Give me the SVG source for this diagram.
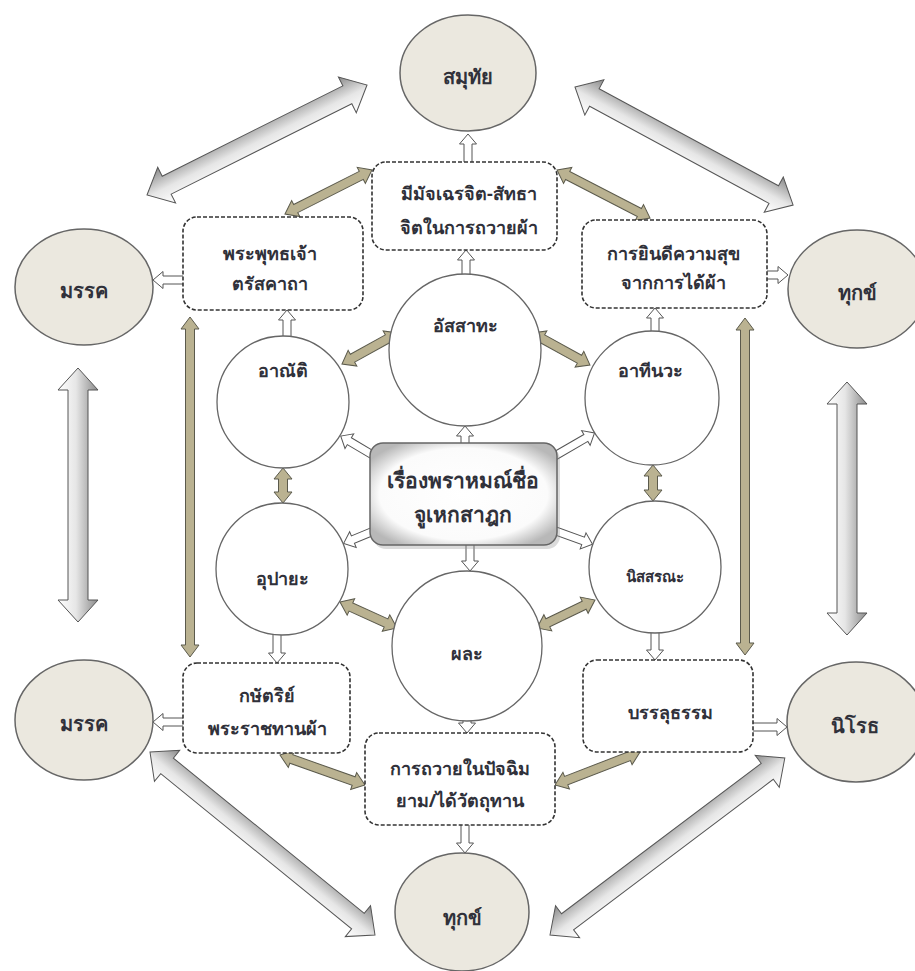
<svg xmlns="http://www.w3.org/2000/svg" width="915" height="971" viewBox="0 0 915 971">
<style>
text{font-family:"Noto Sans","DejaVu Sans",sans-serif;font-weight:bold;fill:#30313a;text-anchor:middle;dominant-baseline:central}
.outer{fill:#ebe8df;stroke:#666;stroke-width:1.5}
.inner{fill:#fff;stroke:#666;stroke-width:1.3}
.box{fill:#fff;stroke:#333;stroke-width:1.6;stroke-dasharray:4 2}
.big{fill:url(#gg);stroke:#555;stroke-width:1}
.kh{fill:#bab291;stroke:#5b5a4c;stroke-width:1}
.sm{fill:#fff;stroke:#555;stroke-width:1}
.t20{font-size:20px}
.t18{font-size:18px}
.t22{font-size:21px}
</style>
<defs>
<linearGradient id="gg" x1="0" y1="0" x2="0" y2="1">
<stop offset="0" stop-color="#8a8a8a"/>
<stop offset="0.55" stop-color="#e6e6e6"/>
<stop offset="1" stop-color="#ffffff"/>
</linearGradient>
<radialGradient id="cg" cx="0.5" cy="0.5" r="0.6">
<stop offset="0" stop-color="#ffffff"/>
<stop offset="0.75" stop-color="#fbfbfb"/>
<stop offset="1" stop-color="#b8b8b8"/>
</radialGradient>
</defs>
<g id="connectors">
<path class="big" transform="translate(147 195) rotate(-26.57)" d="M0,0 L22,-20 L22,-10 L224,-10 L224,-20 L246,0 L224,20 L224,10 L22,10 L22,20 Z"/>
<path class="big" transform="translate(575 87) rotate(28.42)" d="M0,0 L22,-20 L22,-10 L226,-10 L226,-20 L248,0 L226,20 L226,10 L22,10 L22,20 Z"/>
<path class="big" transform="translate(78 368) rotate(90)" d="M0,0 L22,-20 L22,-10 L232,-10 L232,-20 L254,0 L232,20 L232,10 L22,10 L22,20 Z"/>
<path class="big" transform="translate(847 382) rotate(90)" d="M0,0 L22,-20 L22,-10 L231,-10 L231,-20 L253,0 L231,20 L231,10 L22,10 L22,20 Z"/>
<path class="big" transform="translate(150 752) rotate(39.12)" d="M0,0 L22,-20 L22,-10 L268,-10 L268,-20 L290,0 L268,20 L268,10 L22,10 L22,20 Z"/>
<path class="big" transform="translate(550 935) rotate(-37)" d="M0,0 L22,-20 L22,-10 L272,-10 L272,-20 L294,0 L272,20 L272,10 L22,10 L22,20 Z"/>
<path class="kh" transform="translate(285 214) rotate(-26.83)" d="M0,0 L12,-9 L12,-4.5 L85.5,-4.5 L85.5,-9 L97.5,0 L85.5,9 L85.5,4.5 L12,4.5 L12,9 Z"/>
<path class="kh" transform="translate(557 170) rotate(27.3)" d="M0,0 L12,-9 L12,-4.5 L92.7,-4.5 L92.7,-9 L104.7,0 L92.7,9 L92.7,4.5 L12,4.5 L12,9 Z"/>
<path class="kh" transform="translate(190 317) rotate(90)" d="M0,0 L12,-9 L12,-4.5 L328,-4.5 L328,-9 L340,0 L328,9 L328,4.5 L12,4.5 L12,9 Z"/>
<path class="kh" transform="translate(745 318) rotate(90)" d="M0,0 L12,-9 L12,-4.5 L325,-4.5 L325,-9 L337,0 L325,9 L325,4.5 L12,4.5 L12,9 Z"/>
<path class="kh" transform="translate(342 364) rotate(-28.97)" d="M0,0 L12,-9 L12,-4.5 L52,-4.5 L52,-9 L64,0 L52,9 L52,4.5 L12,4.5 L12,9 Z"/>
<path class="kh" transform="translate(532 333) rotate(28.89)" d="M0,0 L12,-9 L12,-4.5 L54.2,-4.5 L54.2,-9 L66.2,0 L54.2,9 L54.2,4.5 L12,4.5 L12,9 Z"/>
<path class="kh" transform="translate(283 468) rotate(90)" d="M0,0 L11,-9 L11,-4.5 L24,-4.5 L24,-9 L35,0 L24,9 L24,4.5 L11,4.5 L11,9 Z"/>
<path class="kh" transform="translate(653 465) rotate(90)" d="M0,0 L11,-9 L11,-4.5 L25,-4.5 L25,-9 L36,0 L25,9 L25,4.5 L11,4.5 L11,9 Z"/>
<path class="kh" transform="translate(340 602) rotate(24.52)" d="M0,0 L12,-9 L12,-4.5 L50.6,-4.5 L50.6,-9 L62.6,0 L50.6,9 L50.6,4.5 L12,4.5 L12,9 Z"/>
<path class="kh" transform="translate(537 628) rotate(-25.77)" d="M0,0 L12,-9 L12,-4.5 L52.4,-4.5 L52.4,-9 L64.4,0 L52.4,9 L52.4,4.5 L12,4.5 L12,9 Z"/>
<path class="kh" transform="translate(280 755) rotate(19.44)" d="M0,0 L12,-9 L12,-4.5 L78.1,-4.5 L78.1,-9 L90.1,0 L78.1,9 L78.1,4.5 L12,4.5 L12,9 Z"/>
<path class="kh" transform="translate(555 785) rotate(-21.22)" d="M0,0 L12,-9 L12,-4.5 L79.2,-4.5 L79.2,-9 L91.2,0 L79.2,9 L79.2,4.5 L12,4.5 L12,9 Z"/>
<path class="sm" transform="translate(468 166) rotate(-90)" d="M0,-4 L22,-4 L22,-8.5 L32,0 L22,8.5 L22,4 L0,4 Z"/>
<path class="sm" transform="translate(466 280) rotate(-90)" d="M0,-4 L20,-4 L20,-8.5 L30,0 L20,8.5 L20,4 L0,4 Z"/>
<path class="sm" transform="translate(287 342) rotate(-90)" d="M0,-4 L22,-4 L22,-8.5 L32,0 L22,8.5 L22,4 L0,4 Z"/>
<path class="sm" transform="translate(655 337) rotate(-90)" d="M0,-4 L19,-4 L19,-8.5 L29,0 L19,8.5 L19,4 L0,4 Z"/>
<path class="sm" transform="translate(187 280) rotate(180)" d="M0,-4 L24,-4 L24,-8.5 L34,0 L24,8.5 L24,4 L0,4 Z"/>
<path class="sm" transform="translate(763 275) rotate(0)" d="M0,-4 L15,-4 L15,-8.5 L25,0 L15,8.5 L15,4 L0,4 Z"/>
<path class="sm" transform="translate(465 447) rotate(-90)" d="M0,-4 L11,-4 L11,-8.5 L21,0 L11,8.5 L11,4 L0,4 Z"/>
<path class="sm" transform="translate(376 457) rotate(-149.3)" d="M0,-4 L31,-4 L31,-8.5 L41,0 L31,8.5 L31,4 L0,4 Z"/>
<path class="sm" transform="translate(553 457) rotate(-30.07)" d="M0,-4 L38,-4 L38,-8.5 L48,0 L38,8.5 L38,4 L0,4 Z"/>
<path class="sm" transform="translate(376 530) rotate(157.5)" d="M0,-4 L25,-4 L25,-8.5 L35,0 L25,8.5 L25,4 L0,4 Z"/>
<path class="sm" transform="translate(553 530) rotate(19.85)" d="M0,-4 L32,-4 L32,-8.5 L42,0 L32,8.5 L32,4 L0,4 Z"/>
<path class="sm" transform="translate(470 541) rotate(90)" d="M0,-4 L20,-4 L20,-8.5 L30,0 L20,8.5 L20,4 L0,4 Z"/>
<path class="sm" transform="translate(277 629) rotate(90)" d="M0,-4 L24,-4 L24,-8.5 L34,0 L24,8.5 L24,4 L0,4 Z"/>
<path class="sm" transform="translate(655 627) rotate(90)" d="M0,-4 L23,-4 L23,-8.5 L33,0 L23,8.5 L23,4 L0,4 Z"/>
<path class="sm" transform="translate(187 722) rotate(180)" d="M0,-4 L24,-4 L24,-8.5 L34,0 L24,8.5 L24,4 L0,4 Z"/>
<path class="sm" transform="translate(749 727) rotate(0)" d="M0,-4 L28,-4 L28,-8.5 L38,0 L28,8.5 L28,4 L0,4 Z"/>
<path class="sm" transform="translate(467 712) rotate(90)" d="M0,-4 L11,-4 L11,-8.5 L21,0 L11,8.5 L11,4 L0,4 Z"/>
<path class="sm" transform="translate(465 821) rotate(90)" d="M0,-4 L22,-4 L22,-8.5 L32,0 L22,8.5 L22,4 L0,4 Z"/>
</g>
<g id="n-samuthai"><ellipse class="outer" cx="468" cy="73" rx="68" ry="58"/><text class="t20" x="468" y="76">สมุทัย</text></g>
<g id="n-mak1"><ellipse class="outer" cx="84" cy="287" rx="69" ry="58"/><text class="t20" x="84" y="290">มรรค</text></g>
<g id="n-thuk1"><ellipse class="outer" cx="857" cy="289" rx="69" ry="59"/><text class="t20" x="857" y="292">ทุกข์</text></g>
<g id="n-mak2"><ellipse class="outer" cx="84" cy="720" rx="69" ry="60"/><text class="t20" x="84" y="723">มรรค</text></g>
<g id="n-nirot"><ellipse class="outer" cx="856" cy="722" rx="69" ry="60"/><text class="t20" x="855" y="725">นิโรธ</text></g>
<g id="n-thuk2"><ellipse class="outer" cx="462" cy="912" rx="67" ry="59"/><text class="t20" x="462" y="917">ทุกข์</text></g>
<g id="n-matchera"><rect class="box" x="372" y="162" width="185" height="88" rx="14"/><text class="t18" x="469" y="193">มีมัจเฉรจิต-สัทธา</text><text class="t18" x="469" y="227">จิตในการถวายผ้า</text></g>
<g id="n-phraphut"><rect class="box" x="183" y="217" width="180" height="93" rx="14"/><text class="t18" x="270" y="253">พระพุทธเจ้า</text><text class="t18" x="270" y="283">ตรัสคาถา</text></g>
<g id="n-yindee"><rect class="box" x="582" y="220" width="185" height="88" rx="14"/><text class="t18" x="673" y="253">การยินดีความสุข</text><text class="t18" x="673" y="282">จากการได้ผ้า</text></g>
<g id="n-kasat"><rect class="box" x="183" y="663" width="167" height="90" rx="14"/><text class="t18" x="267" y="695">กษัตริย์</text><text class="t18" x="267" y="728">พระราชทานผ้า</text></g>
<g id="n-banlu"><rect class="box" x="583" y="660" width="170" height="92" rx="14"/><text class="t18" x="670" y="712">บรรลุธรรม</text></g>
<g id="n-thawai"><rect class="box" x="365" y="733" width="190" height="92" rx="14"/><text class="t18" x="460" y="768">การถวายในปัจฉิม</text><text class="t18" x="460" y="800">ยาม/ได้วัตถุทาน</text></g>
<g id="n-assatha"><circle class="inner" cx="465" cy="350" r="76"/><text class="t18" x="465" y="325">อัสสาทะ</text></g>
<g id="n-anat"><circle class="inner" cx="283" cy="402" r="66"/><text class="t18" x="283" y="370">อาณัติ</text></g>
<g id="n-athinawa"><circle class="inner" cx="652" cy="398" r="67"/><text class="t18" x="650" y="370">อาทีนวะ</text></g>
<g id="n-upaya"><circle class="inner" cx="282" cy="569" r="66"/><text class="t18" x="282" y="578">อุปายะ</text></g>
<g id="n-nissarana"><circle class="inner" cx="655" cy="567" r="66"/><text class="t18" x="655" y="576" style="font-size:15px">นิสสรณะ</text></g>
<g id="n-phala"><circle class="inner" cx="467" cy="646" r="75"/><text class="t18" x="467" y="653">ผละ</text></g>
<g id="n-center"><rect x="373" y="447" width="187" height="102" rx="13" fill="#999" opacity="0.35"/><rect x="370" y="443" width="187" height="102" rx="13" fill="url(#cg)" stroke="#666" stroke-width="1.5"/><text class="t22" x="463" y="480">เรื่องพราหมณ์ชื่อ</text><text class="t22" x="463" y="514">จูเหกสาฎก</text></g>
</svg>
